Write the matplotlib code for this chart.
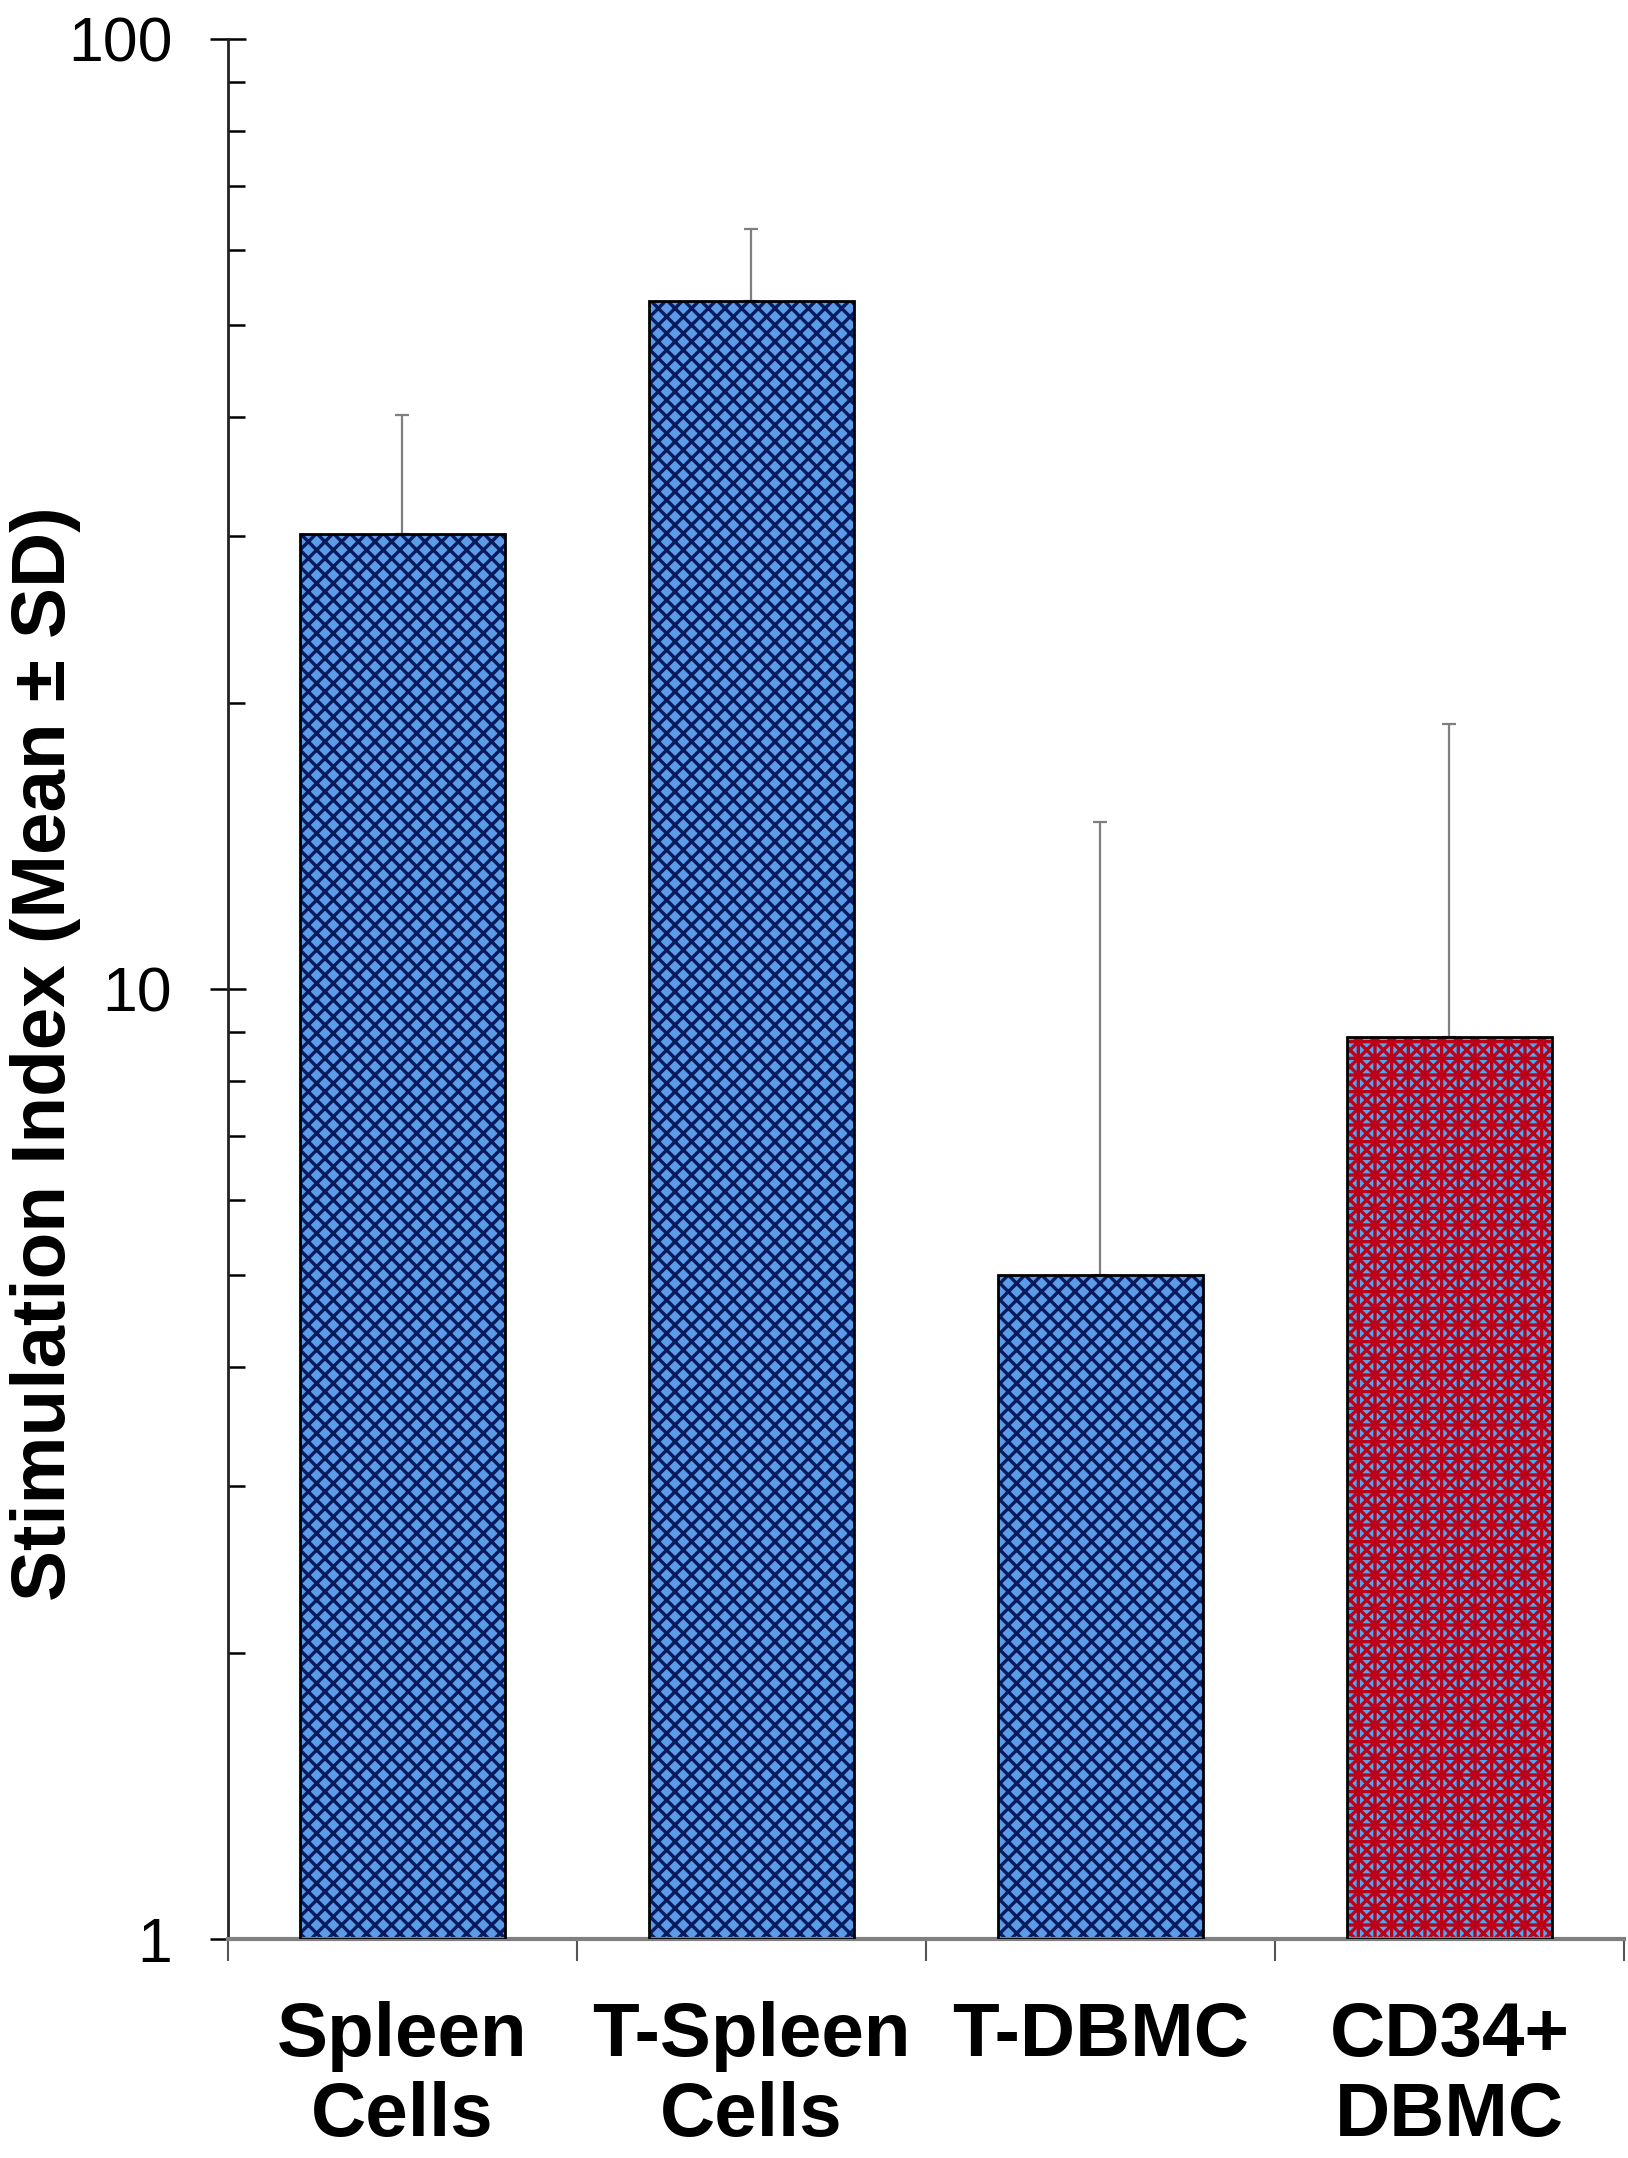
import matplotlib
matplotlib.use("Agg")
import matplotlib.pyplot as plt
import numpy as np
from matplotlib.ticker import FixedLocator, NullFormatter, LogLocator

# values (log axis)
groups = ["Spleen\nCells", "T-Spleen\nCells", "T-DBMC", "CD34+\nDBMC"]
means = [30.1, 53.0, 5.0, 8.9]
sd = [10.1, 10.0, 10.0, 10.1]
face_cols = ["#5b9be8", "#5b9be8", "#5b9be8", "#4fa8f0"]
hatch_cols = ["#071a5c", "#071a5c", "#071a5c", "#bc0018"]
hatches = ["xx", "xx", "xx", "xx+"]

plt.rcParams["font.family"] = ["Liberation Sans", "DejaVu Sans"]
plt.rcParams["hatch.linewidth"] = 2.4

fig = plt.figure(figsize=(16.28, 21.58), dpi=100)
ax = fig.add_axes([0.140, 0.1015, 0.8575, 0.8805])

x = np.arange(len(groups))
w = 0.585
heights = np.array(means) - 1  # bars start at 1 on the log axis

# patterned fill, hatch takes the edge colour
for i in range(len(groups)):
    ax.bar(x[i], heights[i], width=w, bottom=1, color=face_cols[i],
           edgecolor=hatch_cols[i], linewidth=0, hatch=hatches[i], zorder=2)
# outline on top
ax.bar(x, heights, width=w, bottom=1, facecolor="none", edgecolor="black",
       linewidth=2, zorder=3)

ax.errorbar(x, means, yerr=[np.zeros(len(sd)), sd], fmt="none",
            ecolor="#7f7f7f", elinewidth=1.6, capsize=5, capthick=1.6, zorder=1)

ax.set_yscale("log")
ax.set_ylim(1, 100)
ax.set_xlim(-0.5, 3.5)

ax.yaxis.set_major_locator(FixedLocator([1, 10, 100]))
ax.set_yticklabels(["1", "10", "100"])
ax.yaxis.set_minor_locator(LogLocator(base=10, subs=np.arange(2, 10)))
ax.yaxis.set_minor_formatter(NullFormatter())
ax.tick_params(axis="y", which="major", direction="inout", length=26, width=1.8,
               labelsize=45, pad=27, color="black")
ax.tick_params(axis="y", which="minor", direction="in", length=12, width=1.8,
               color="black")

ax.set_xticks(x)
ax.set_xticklabels(groups, fontsize=55, fontweight="bold", linespacing=1.15)
ax.xaxis.set_minor_locator(FixedLocator(np.arange(-0.5, 4.0, 1.0)))
ax.tick_params(axis="x", which="major", length=0, pad=45)
ax.tick_params(axis="x", which="minor", direction="out", length=16, width=1.5,
               color="#555555")

for s in ["top", "right"]:
    ax.spines[s].set_visible(False)
ax.spines["left"].set_linewidth(2)
ax.spines["left"].set_color("#222222")
ax.spines["bottom"].set_linewidth(3)
ax.spines["bottom"].set_color("#808080")

fig.text(10 / 1628, 1 - 1054 / 2158, "Stimulation Index (Mean \u00b1 SD)",
         rotation=90, ha="left", va="center", fontsize=55, fontweight="bold")

fig.savefig("out.png", dpi=100)
